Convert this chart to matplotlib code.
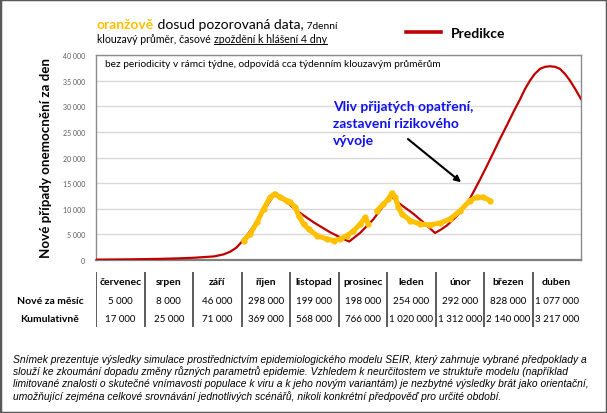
import matplotlib
matplotlib.use("Agg")
import numpy as np
import matplotlib.pyplot as plt
from matplotlib.lines import Line2D
from matplotlib.patches import Rectangle

plt.rcParams['font.family'] = ['Lato', 'DejaVu Sans']

# -------------------------
# data (x = days since 1 July)
# -------------------------
pred_day = [0, 20, 40, 53, 62, 74, 80, 84, 88, 91.5, 96.8, 103, 107, 111.7,
            119.7, 126, 136.4, 146.8, 155.1, 158.7, 165.6, 174, 180.2, 184.4,
            190.7, 199, 205.2, 212.5, 216, 219.8, 224, 228.2, 231, 234.4, 237.5,
            240.7, 244.9, 249, 253, 257.4, 261.5, 265.7, 268.8, 272, 275,
            278.3, 281.5, 284.5, 287.7, 290.8, 294, 297.1, 300.5, 304]
pred_val = [60, 120, 220, 330, 450, 700, 1100, 1600, 2400, 3600, 5700, 8600, 10500, 12800,
            11250, 9600, 7350, 5400, 4100, 3600, 5300, 8000, 10600, 12550,
            10900, 9000, 7350, 5270, 5900, 6700, 7900, 9300, 10500, 12000, 13800,
            15700, 18300, 20900, 23500, 26200, 28800, 31300, 33300, 35000, 36300,
            37300, 37700, 37800, 37700, 37300, 36300, 35000, 33300, 31400]

obs_day = [92.5, 96.7, 100.9, 105, 109.2, 111.9, 115.5, 119.7, 121.8, 124.9, 127,
           130.1, 133.2, 138.5, 144.7, 148.9, 153.1, 157.3, 161.4, 165.6, 168.7,
           170.8, 173.4, 176, 180.2, 183.3, 185.4, 187.5, 189.6, 191.7, 196.9,
           203.1, 209.4, 215.7, 221.9, 228.2, 234.4, 238.6, 242.8, 247]
obs_val = [3800, 5100, 7350, 9950, 12250, 12900, 12250, 11600, 11250, 10300, 8650,
           7000, 6050, 4750, 4100, 3800, 4100, 4750, 5700, 7000, 8300,
           7000, np.nan, 9600, 10900, 11900, 13050, 12250, 10300, 9000, 7700,
           7000, 6850, 7200, 8000, 9600, 11600, 12250, 12250, 11600]

y_ticks = [0, 5000, 10000, 15000, 20000, 25000, 30000, 35000, 40000]

months = ["červenec", "srpen", "září", "říjen", "listopad", "prosinec",
          "leden", "únor", "březen", "duben"]
monthly_new = ["5 000", "8 000", "46 000", "298 000", "199 000", "198 000",
               "254 000", "292 000", "828 000", "1 077 000"]
cumulative = ["17 000", "25 000", "71 000", "369 000", "568 000", "766 000",
              "1 020 000", "1 312 000", "2 140 000", "3 217 000"]

caption = [
    "Snímek prezentuje výsledky simulace prostřednictvím epidemiologického modelu SEIR, který zahrnuje vybrané předpoklady a",
    "slouží ke zkoumání dopadu změny různých parametrů epidemie. Vzhledem k neurčitostem ve struktuře modelu (například",
    "limitované znalosti o skutečné vnímavosti populace k viru a k jeho novým variantám) je nezbytné výsledky brát jako orientační,",
    "umožňující zejména celkové srovnávání jednotlivých scénářů, nikoli konkrétní předpověď pro určité období.",
]

RED = "#C00000"
ORANGE = "#FFC000"
BLUE = "#1010F0"
W, H = 607, 414


def fx(x):
    return x / W


def fy(y):
    return 1 - y / H


fig = plt.figure(figsize=(W / 100, H / 100), dpi=100)

# -------------------------
# main chart
# -------------------------
ax = fig.add_axes([fx(96), fy(261), (581 - 96) / W, (261 - 56) / H])
ax.set_xlim(0, 304)
ax.set_ylim(0, 40000)
ax.set_yticks(y_ticks)
ax.set_yticklabels([f"{v:,}".replace(",", " ") for v in y_ticks],
                   fontsize=5, color="#595959")
ax.set_xticks([])
ax.tick_params(axis="y", length=0, pad=8)
ax.grid(axis="y", color="#D9D9D9", lw=1)
ax.set_axisbelow(True)
for s in ax.spines.values():
    s.set_color("#8C8C8C")
    s.set_linewidth(1)
ax.spines["bottom"].set_linewidth(1.6)
ax.spines["bottom"].set_color("#808080")

ax.plot(pred_day, pred_val, color=RED, lw=1.6, zorder=3)
ax.plot(obs_day, obs_val, color=ORANGE, lw=3.6, solid_capstyle="round",
        solid_joinstyle="round", marker="o", ms=3.5, zorder=4)

ax.annotate("", xy=(230.2, 14830), xytext=(194.2, 23940),
            arrowprops=dict(arrowstyle="-|>", color="black", lw=1.5,
                            mutation_scale=9))

fig.text(fx(105), fy(66.7), "bez periodicity v rámci týdne, odpovídá cca týdenním klouzavým průměrům",
         fontsize=7.3, va="baseline", ha="left")

for i, line in enumerate(["Vliv přijatých opatření,", "zastavení rizikového", "vývoje"]):
    fig.text(fx(333), fy(110.7 + 17.3 * i), line, fontsize=10, fontweight="bold",
             color=BLUE, va="baseline", ha="left")

fig.text(fx(46), fy(158), "Nové případy onemocnění za den", rotation=90,
         fontsize=9.6, fontweight="bold", ha="center", va="center")

# -------------------------
# header texts and legend
# -------------------------
fig.canvas.draw()
r = fig.canvas.get_renderer()

t = fig.text(fx(97), fy(29), "oranžově", color=ORANGE, fontsize=10,
             fontweight="bold", va="baseline")
bb = t.get_window_extent(r)
t = fig.text(bb.x1 / W, fy(29), " dosud pozorovaná data,", fontsize=10, va="baseline")
bb = t.get_window_extent(r)
fig.text(bb.x1 / W, fy(29), " 7denní", fontsize=7.3, va="baseline")

t = fig.text(fx(97), fy(43.3), "klouzavý průměr, časové ", fontsize=7.6, va="baseline")
bb = t.get_window_extent(r)
t = fig.text(bb.x1 / W, fy(43.3), "zpoždění k hlášení 4 dny", fontsize=7.6, va="baseline")
bb2 = t.get_window_extent(r)
fig.add_artist(Line2D([bb.x1 / W, bb2.x1 / W], [fy(45), fy(45)],
                      color="black", lw=0.7, transform=fig.transFigure))

fig.add_artist(Line2D([fx(405.7), fx(441)], [fy(33.3), fy(33.3)],
                      color=RED, lw=2.6, transform=fig.transFigure))
fig.text(fx(451), fy(34), "Predikce", fontsize=10, fontweight="bold",
         va="center", ha="left")

# -------------------------
# table with monthly numbers
# -------------------------
tax = fig.add_axes([fx(96), fy(332), (581 - 96) / W, (332 - 268) / H])
tax.set_xlim(0, 10)
tax.set_ylim(332, 268)
tax.axis("off")
tax.vlines(range(10), 272.7, 328, color="#404040", lw=1.2)
for i, m in enumerate(months):
    tax.text(i + 0.5, 282.7, m, fontsize=7.5, fontweight="bold", ha="center", va="center")
    tax.text(i + 0.5, 301.7, monthly_new[i], fontsize=7, ha="center", va="center")
    tax.text(i + 0.5, 320, cumulative[i], fontsize=7, ha="center", va="center")
tax.text(-0.95, 301.7, "Nové za měsíc", fontsize=7.5, fontweight="bold",
         ha="center", va="center", clip_on=False)
tax.text(-0.95, 320, "Kumulativně", fontsize=7.5, fontweight="bold",
         ha="center", va="center", clip_on=False)

# -------------------------
# caption
# -------------------------
for i, line in enumerate(caption):
    fig.text(fx(13), fy(359.7 + 12.35 * i), line, fontsize=7.4, style="italic",
             family=["Liberation Sans", "DejaVu Sans"], ha="left", va="center")

fig.add_artist(Rectangle((0, 0), 1, 1, transform=fig.transFigure, fill=False,
                         edgecolor="#595959", lw=2.5))

fig.savefig("out.png", dpi=100)
